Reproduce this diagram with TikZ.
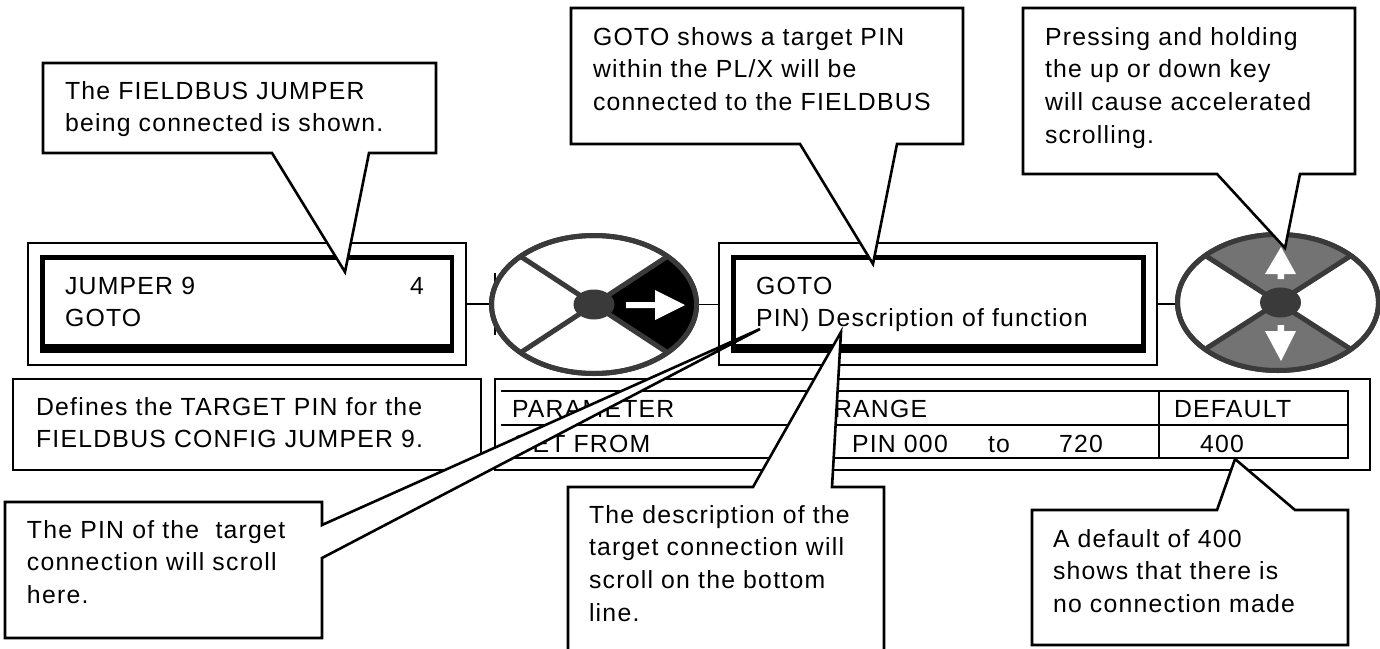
\documentclass[tikz,border=0pt]{standalone}
\usepackage{fontspec}
\usetikzlibrary{shapes.geometric}
\setmainfont[LetterSpace=5]{Liberation Sans}
\definecolor{btn}{HTML}{3A3A3A}
\definecolor{sect}{HTML}{737373}
\tikzset{
  x=1pt,y=-1pt,
  txt/.style={inner sep=0pt,outer sep=0pt,anchor=north west,align=left,yshift=23.1pt,
    font=\fontsize{24.8}{32.7}\selectfont},
  framebox/.style={draw=black,line width=1.8pt,fill=white,inner sep=0pt,outer sep=0pt},
  callout/.style={draw=black,line width=2.6pt,fill=white,line join=miter,miter limit=10},
  keypad/.style={ellipse,draw=btn,line width=5pt,fill=white,inner sep=0pt,outer sep=0pt},
  hubdot/.style={ellipse,fill=btn,inner sep=0pt,minimum width=41pt,minimum height=30pt},
  spoke/.style={draw=btn,line width=5pt},
  wire/.style={draw=black,line width=1.6pt},
  rule/.style={draw=black,line width=2pt},
}
\newcommand{\fbx}[5]{\node[framebox,minimum width=#4-#2,minimum height=#5-#3] (#1) at ({(#2+#4)/2},{(#3+#5)/2}) {};}
\newcommand{\fl}{\rule{0pt}{23.1pt}}
\begin{document}
\begin{tikzpicture}
\useasboundingbox[fill=white] (0,0) rectangle (1380,648);
% display frames
\fbx{frameA}{28}{243}{466}{365}
\fbx{frameB}{719}{243}{1157}{365}
\fill[black] (40,255) rectangle (454,353);
\fill[white] (44.5,260) rectangle (449.5,344);
\fill[black] (731,255) rectangle (1146,353);
\fill[white] (736,260) rectangle (1141,344);
% sliver of a box behind the first key
\draw[line width=2pt] (495,273) -- (495,335);
% keys
\node[keypad,minimum width=205pt,minimum height=138pt] (keyA) at (594,304.5) {};
\node[keypad,minimum width=201pt,minimum height=136pt] (keyB) at (1278,302.5) {};
\draw[wire] (frameA.east) -- (frameA.east -| keyA.west);
\draw[wire] (keyA.east) -- (keyA.east -| frameB.west);
\draw[wire] (frameB.east) -- (frameB.east -| keyB.west);
\begin{scope}
\clip (594,304.5) ellipse [x radius=102.5pt,y radius=69pt];
\fill[black] (594,304.5) -- (668,256) -- (720,240) -- (720,370) -- (668,353) -- cycle;
\draw[spoke] (520,256) -- (668,353);
\draw[spoke] (668,256) -- (520,353);
\end{scope}
\begin{scope}
\clip (1278,302.5) ellipse [x radius=100.5pt,y radius=68pt];
\fill[sect] (1280,302.5) -- (1206,256) -- (1206,220) -- (1352,220) -- (1352,255) -- cycle;
\fill[sect] (1280,302.5) -- (1207,348) -- (1207,385) -- (1352,385) -- (1352,350) -- cycle;
\draw[spoke] (1206,256) -- (1352,350);
\draw[spoke] (1352,255) -- (1207,348);
\end{scope}
\draw[btn,line width=5pt] (594,304.5) ellipse [x radius=102.5pt,y radius=69pt];
\draw[btn,line width=5pt] (1278,302.5) ellipse [x radius=100.5pt,y radius=68pt];
\node[hubdot] (hubA) at (594,304.5) {};
\node[hubdot] (hubB) at (1280.5,302.5) {};
% key arrows
\fill[white] (626,302) -- (655,302) -- (655,290) -- (685,305) -- (655,320) -- (655,308) -- (626,308) -- cycle;
\fill[white] (1281,247) -- (1296,274) -- (1284,274) -- (1284,279) -- (1277.5,279) -- (1277.5,274) -- (1265,274) -- cycle;
\fill[white] (1281,361) -- (1296,331) -- (1284,331) -- (1284,325) -- (1277.5,325) -- (1277.5,331) -- (1265,331) -- cycle;
% lower frames and table
\fbx{noteBox}{13}{379}{481}{470}
\fbx{tableBox}{495}{379}{1370}{470}
\draw[rule] (501,391) -- (1348,391) -- (1348,458) -- (501,458);
\draw[rule] (501,425) -- (1348,425);
\draw[rule] (1159,391) -- (1159,458);
\draw[rule] (825,391) -- (825,458);
% display text
\node[txt] (t1) at (65,294) {\fl JUMPER 9\\GOTO};
\node[txt] (t1b) at (410,294) {\fl 4};
\node[txt] (t2) at (756,294) {\fl GOTO\\PIN) Description of function};
\node[txt] (t3) at (36,415) {\fl Defines the TARGET PIN for the\\FIELDBUS CONFIG JUMPER 9.};
\node[txt] (h1) at (512,417) {\fl PARAMETER};
\node[txt] (h2) at (834,417) {\fl RANGE};
\node[txt] (h3) at (1174,417) {\fl DEFAULT};
\node[txt] (r1) at (512,452) {\fl GET FROM};
\node[txt] (r2) at (852,452) {\fl PIN 000};
\node[txt] (r3) at (988,452) {\fl to};
\node[txt] (r4) at (1059,452) {\fl 720};
\node[txt] (r5) at (1200,452) {\fl 400};
% callouts
\draw[callout] (43,63) -- (436,63) -- (436,153) -- (369,153) -- (345,272) -- (272,153) -- (43,153) -- cycle;
\draw[callout] (571,8) -- (963,8) -- (963,144) -- (897,144) -- (873,264) -- (800,144) -- (571,144) -- cycle;
\draw[callout] (1023,8) -- (1355,8) -- (1355,174) -- (1300,174) -- (1285,248) -- (1217,174) -- (1023,174) -- cycle;
\draw[callout] (5,502) -- (322,502) -- (322,525) -- (760,329) -- (322,558) -- (322,638) -- (5,638) -- cycle;
\draw[callout] (568,660) -- (568,487) -- (753,487) -- (841,332) -- (832,487) -- (884,487) -- (884,660);
\draw[callout] (1032,510) -- (1217,510) -- (1235,459) -- (1295,510) -- (1348,510) -- (1348,645) -- (1032,645) -- cycle;
\node[txt] (c1) at (65,99) {\fl The FIELDBUS JUMPER\\being connected is shown.};
\node[txt] (c2) at (593,45) {\fl GOTO shows a target PIN\\within the PL/X will be\\connected to the FIELDBUS};
\node[txt] (c3) at (1045,45) {\fl Pressing and holding\\the up or down key\\will cause accelerated\\scrolling.};
\node[txt] (c4) at (27,538) {\fl The PIN of the\ \ target\\connection will scroll\\here.};
\node[txt] (c5) at (589,523) {\fl The description of the\\target connection will\\scroll on the bottom\\line.};
\node[txt] (c6) at (1053,547) {\fl A default of 400\\shows that there is\\no connection made};
\end{tikzpicture}
\end{document}
